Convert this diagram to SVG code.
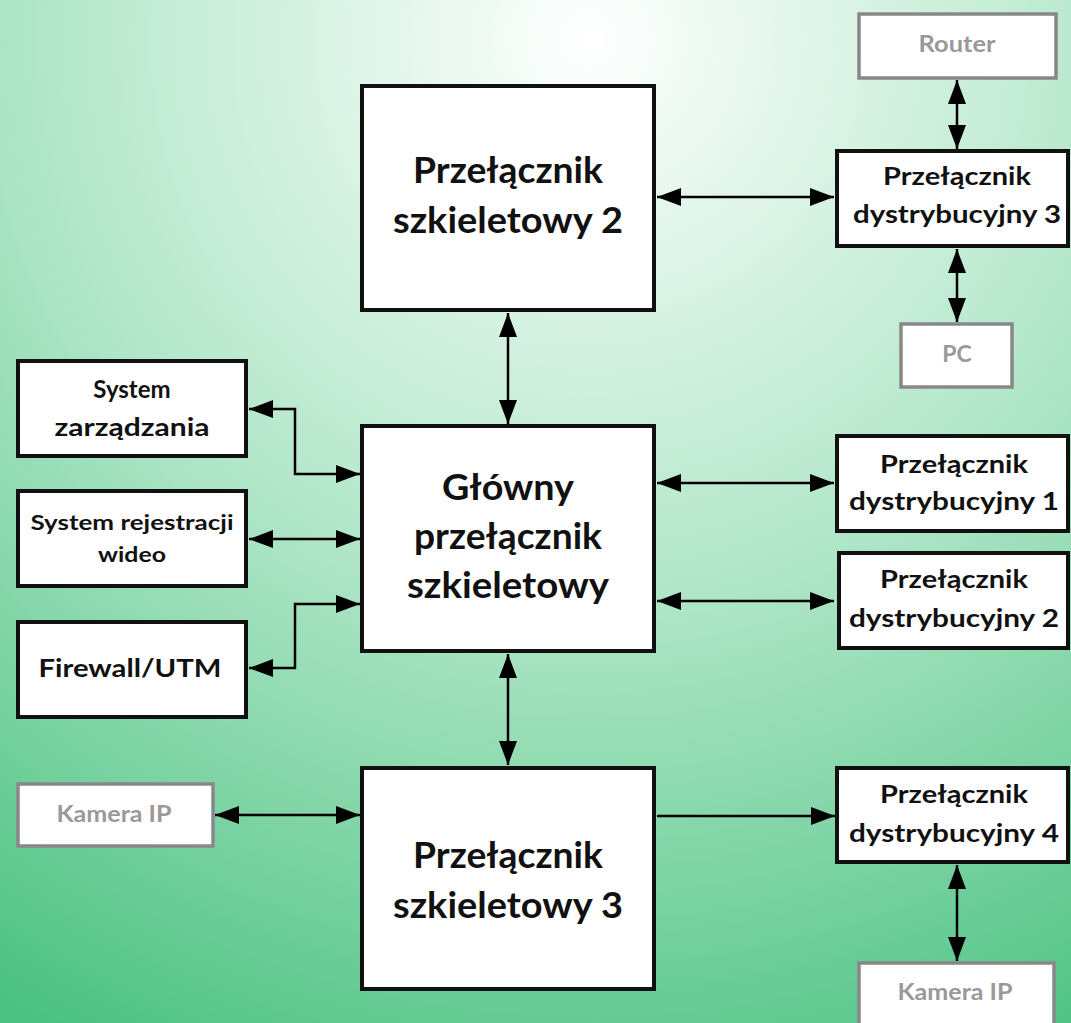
<svg xmlns="http://www.w3.org/2000/svg" width="1071" height="1023" viewBox="0 0 1071 1023">
<defs>
<radialGradient id="bg" gradientUnits="userSpaceOnUse" cx="590" cy="40" r="1120">
<stop offset="0" stop-color="#ffffff"/>
<stop offset="0.5" stop-color="#b0e6c8"/>
<stop offset="1" stop-color="#4cc282"/>
</radialGradient>
<marker id="ah" viewBox="0 0 24 18" refX="24" refY="9" markerWidth="24" markerHeight="18" markerUnits="userSpaceOnUse" orient="auto-start-reverse">
<path d="M0,0 L24,9 L0,18 Z" fill="#000"/>
</marker>
<style>
.box{fill:#fff;stroke:#111;stroke-width:4}
.gbox{fill:#fff;stroke:#888;stroke-width:3.5}
.big{font-family:Lato,"Open Sans",sans-serif;font-weight:bold;font-size:36px;fill:#111;text-anchor:middle}
.mid{font-family:Lato,"Open Sans",sans-serif;font-weight:bold;font-size:24px;fill:#111;text-anchor:middle}
.sm{font-family:Lato,"Open Sans",sans-serif;font-weight:bold;font-size:21px;fill:#111;text-anchor:middle}
.gt{font-family:Lato,"Open Sans",sans-serif;font-weight:bold;font-size:23px;fill:#999;text-anchor:middle}
.c{fill:none;stroke:#000;stroke-width:2.5}
.bi{marker-start:url(#ah);marker-end:url(#ah)}
.uni{marker-end:url(#ah)}
</style>
</defs>
<rect width="1071" height="1023" fill="url(#bg)"/>
<g id="connectors">
<line class="c bi" x1="657" y1="197" x2="834" y2="197"/>
<line class="c bi" x1="957" y1="80" x2="957" y2="149"/>
<line class="c bi" x1="957" y1="249" x2="957" y2="322"/>
<line class="c bi" x1="508" y1="313" x2="508" y2="424"/>
<path class="c bi" d="M249,409 H295 V474 H360"/>
<line class="c bi" x1="249" y1="539" x2="360" y2="539"/>
<path class="c bi" d="M249,668 H295 V604 H360"/>
<line class="c bi" x1="657" y1="483" x2="834" y2="483"/>
<line class="c bi" x1="657" y1="601" x2="834" y2="601"/>
<line class="c bi" x1="508" y1="654" x2="508" y2="765"/>
<line class="c bi" x1="215" y1="815" x2="360" y2="815"/>
<line class="c uni" x1="657" y1="816" x2="835" y2="816"/>
<line class="c bi" x1="957" y1="865" x2="957" y2="961"/>
</g>
<g id="szkieletowy2">
<rect class="box" x="362" y="86" width="292" height="224"/>
<text class="big" x="508" y="183" textLength="190" lengthAdjust="spacingAndGlyphs">Przełącznik</text>
<text class="big" x="508" y="233" textLength="230" lengthAdjust="spacingAndGlyphs">szkieletowy 2</text>
</g>
<g id="glowny">
<rect class="box" x="362" y="426" width="292" height="225"/>
<text class="big" x="508" y="500" textLength="132" lengthAdjust="spacingAndGlyphs">Główny</text>
<text class="big" x="508" y="549" textLength="188" lengthAdjust="spacingAndGlyphs">przełącznik</text>
<text class="big" x="508" y="598" textLength="202" lengthAdjust="spacingAndGlyphs">szkieletowy</text>
</g>
<g id="szkieletowy3">
<rect class="box" x="362" y="768" width="292" height="221"/>
<text class="big" x="508" y="868" textLength="190" lengthAdjust="spacingAndGlyphs">Przełącznik</text>
<text class="big" x="508" y="918" textLength="230" lengthAdjust="spacingAndGlyphs">szkieletowy 3</text>
</g>
<g id="router">
<rect class="gbox" x="859" y="14" width="197" height="64"/>
<text class="gt" x="957" y="52" textLength="77" lengthAdjust="spacingAndGlyphs">Router</text>
</g>
<g id="dystrybucyjny3">
<rect class="box" x="837" y="151" width="231" height="95"/>
<text class="mid" x="957" y="185" textLength="148" lengthAdjust="spacingAndGlyphs">Przełącznik</text>
<text class="mid" x="957" y="223" textLength="208" lengthAdjust="spacingAndGlyphs">dystrybucyjny 3</text>
</g>
<g id="pc">
<rect class="gbox" x="901" y="324" width="111" height="63"/>
<text class="gt" x="957" y="362">PC</text>
</g>
<g id="dystrybucyjny1">
<rect class="box" x="837" y="436" width="231" height="95"/>
<text class="mid" x="954" y="473" textLength="148" lengthAdjust="spacingAndGlyphs">Przełącznik</text>
<text class="mid" x="954" y="510" textLength="210" lengthAdjust="spacingAndGlyphs">dystrybucyjny 1</text>
</g>
<g id="dystrybucyjny2">
<rect class="box" x="839" y="553" width="229" height="95"/>
<text class="mid" x="954" y="588" textLength="148" lengthAdjust="spacingAndGlyphs">Przełącznik</text>
<text class="mid" x="954" y="627" textLength="210" lengthAdjust="spacingAndGlyphs">dystrybucyjny 2</text>
</g>
<g id="dystrybucyjny4">
<rect class="box" x="837" y="768" width="231" height="94"/>
<text class="mid" x="954" y="803" textLength="148" lengthAdjust="spacingAndGlyphs">Przełącznik</text>
<text class="mid" x="954" y="842" textLength="210" lengthAdjust="spacingAndGlyphs">dystrybucyjny 4</text>
</g>
<g id="kamera2">
<rect class="gbox" x="859" y="963" width="195" height="70"/>
<text class="gt" x="955" y="1000" textLength="115" lengthAdjust="spacingAndGlyphs">Kamera IP</text>
</g>
<g id="system-zarzadzania">
<rect class="box" x="18" y="361" width="228" height="95"/>
<text class="mid" x="132" y="398">System</text>
<text class="mid" x="132" y="436" textLength="155" lengthAdjust="spacingAndGlyphs">zarządzania</text>
</g>
<g id="system-rejestracji">
<rect class="box" x="18" y="491" width="228" height="95"/>
<text class="sm" x="132" y="530" textLength="203" lengthAdjust="spacingAndGlyphs">System rejestracji</text>
<text class="sm" x="132" y="562" textLength="68" lengthAdjust="spacingAndGlyphs">wideo</text>
</g>
<g id="firewall">
<rect class="box" x="18" y="622" width="228" height="95"/>
<text class="mid" x="130" y="677" textLength="183" lengthAdjust="spacingAndGlyphs">Firewall/UTM</text>
</g>
<g id="kamera1">
<rect class="gbox" x="18" y="784" width="195" height="62"/>
<text class="gt" x="114" y="822" textLength="115" lengthAdjust="spacingAndGlyphs">Kamera IP</text>
</g>
</svg>
